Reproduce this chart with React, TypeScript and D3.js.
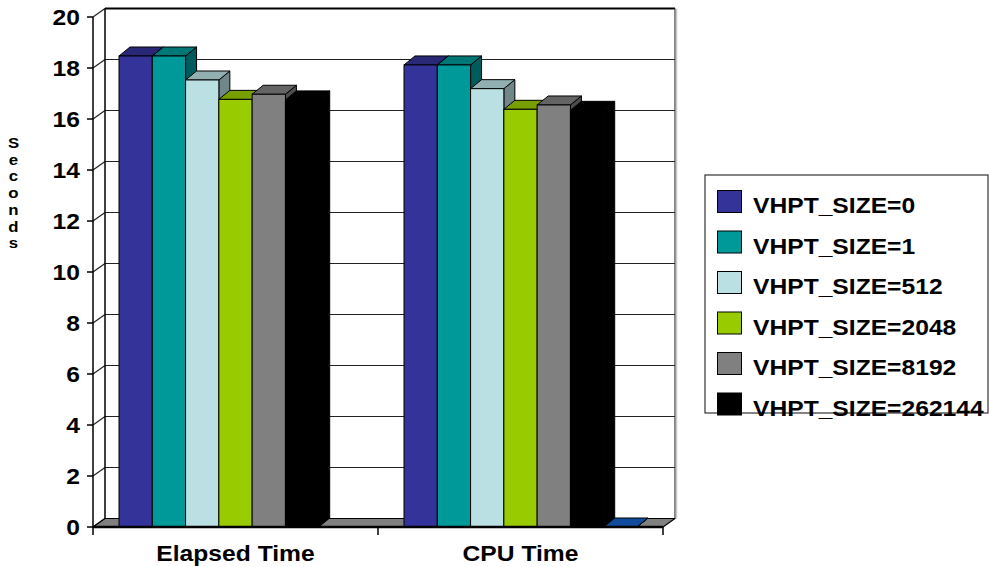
import React from "react";
import * as d3 from "d3";

const categories = ["Elapsed Time", "CPU Time"];
const seriesNames = [
  "VHPT_SIZE=0",
  "VHPT_SIZE=1",
  "VHPT_SIZE=512",
  "VHPT_SIZE=2048",
  "VHPT_SIZE=8192",
  "VHPT_SIZE=262144",
];
const seriesColors = ["#333399", "#009999", "#BBE0E3", "#99CC00", "#808080", "#000000"];
const vhpt0 = [18.47, 18.12];
const vhpt1 = [18.47, 18.12];
const vhpt512 = [17.53, 17.19];
const vhpt2048 = [16.77, 16.38];
const vhpt8192 = [16.97, 16.55];
const vhpt262144 = [16.75, 16.34];
// unnamed 7th series (not in legend), only a flat sliver under CPU Time
const extraSeries: (number | null)[] = [null, 0];
const extraColor = "#1460c8";
const yTicks = [0, 2, 4, 6, 8, 10, 12, 14, 16, 18, 20];
const yTitle = "Seconds";

const allSeries: (number | null)[][] = [vhpt0, vhpt1, vhpt512, vhpt2048, vhpt8192, vhpt262144, extraSeries];
const allColors = [...seriesColors, extraColor];

const W = 989;
const H = 567;
const X0 = 93;
const X1 = 663;
const Y0 = 527;
const Y1 = 17;
const WDX = 12;
const WDY = -8.5;
const BDX = 11;
const BDY = -9;
const FONT = "'Liberation Sans', Arial, sans-serif";
const SX = 1.12;

function shade(c: string, k: number) {
  const r = d3.rgb(c);
  return d3.rgb(r.r * k, r.g * k, r.b * k).formatHex();
}

function T(props: { x: number; y: number; size: number; anchor?: string; dy?: string; children: React.ReactNode }) {
  return (
    <text
      transform={`translate(${props.x},${props.y}) scale(${SX},1)`}
      x={0}
      y={0}
      dy={props.dy}
      textAnchor={props.anchor || "start"}
      fontSize={props.size}
      fontWeight="bold"
      fill="#000"
    >
      {props.children}
    </text>
  );
}

export default function App() {
  const y = d3.scaleLinear().domain([0, 20]).range([Y0, Y1]);
  const xCat = d3.scaleBand().domain(categories).range([X0, X1]).padding(0);
  const pad = 26;
  const slotIdx = allSeries.map((_, i) => String(i));

  const bars: JSX.Element[] = [];
  categories.forEach((cat, ci) => {
    const b0 = xCat(cat)!;
    const xs = d3
      .scaleBand()
      .domain(slotIdx)
      .range([b0 + pad, b0 + xCat.bandwidth() - pad])
      .padding(0);
    allSeries.forEach((ser, si) => {
      const v = ser[ci];
      if (v === null || v === undefined) return;
      const xl = xs(String(si))!;
      const xr = xl + xs.bandwidth();
      const yt = y(v);
      const yb = y(0);
      const col = allColors[si];
      const top = shade(col, 0.78);
      const side = shade(col, 0.6);
      const stroke = "#000";
      bars.push(
        <g key={`${ci}-${si}`}>
          <polygon
            points={`${xr},${yb} ${xr + BDX},${yb + BDY} ${xr + BDX},${yt + BDY} ${xr},${yt}`}
            fill={side}
            stroke={stroke}
            strokeWidth={1}
            strokeLinejoin="round"
          />
          <polygon
            points={`${xl},${yt} ${xr},${yt} ${xr + BDX},${yt + BDY} ${xl + BDX},${yt + BDY}`}
            fill={top}
            stroke={stroke}
            strokeWidth={1}
            strokeLinejoin="round"
          />
          {yb - yt > 0.5 && (
            <rect x={xl} y={yt} width={xr - xl} height={yb - yt} fill={col} stroke={stroke} strokeWidth={1} />
          )}
        </g>
      );
    });
  });

  const catTicks = [X0, ...categories.map((c) => xCat(c)! + xCat.bandwidth())];

  return (
    <svg
      width={W}
      height={H}
      style={{ position: "absolute", left: 0, top: 0, background: "#fff" }}
      fontFamily={FONT}
    >
      <rect x={0} y={0} width={W} height={H} fill="#fff" />
      {/* back wall */}
      <rect x={X0 + WDX} y={Y1 + WDY} width={X1 - X0} height={Y0 - Y1} fill="#fff" />
      {/* left wall */}
      <polygon
        points={`${X0},${Y0} ${X0 + WDX},${Y0 + WDY} ${X0 + WDX},${Y1 + WDY} ${X0},${Y1}`}
        fill="#fff"
      />
      {yTicks.map((t) => (
        <g key={t}>
          <line x1={X0} y1={y(t)} x2={X0 + WDX} y2={y(t) + WDY} stroke="#222" strokeWidth={1.2} />
          <line
            x1={X0 + WDX}
            y1={y(t) + WDY}
            x2={X1 + WDX}
            y2={y(t) + WDY}
            stroke={t === 20 ? "#000" : "#222"}
            strokeWidth={t === 20 ? 2 : 1.2}
          />
          <line x1={X0 - 6} y1={y(t)} x2={X0} y2={y(t)} stroke="#000" strokeWidth={1.5} />
          <T x={80} y={y(t)} dy="0.36em" anchor="end" size={22}>
            {t}
          </T>
        </g>
      ))}
      {/* wall edges */}
      <line x1={X0 + WDX} y1={Y1 + WDY} x2={X0 + WDX} y2={Y0 + WDY} stroke="#000" strokeWidth={1.5} />
      <line x1={X1 + WDX} y1={Y1 + WDY} x2={X1 + WDX} y2={Y0 + WDY} stroke="#333" strokeWidth={1.2} />
      <line x1={X1 + WDX + 1.5} y1={Y1 + WDY} x2={X1 + WDX + 1.5} y2={Y0 + WDY} stroke="#c8c8c8" strokeWidth={1.5} />
      {/* floor */}
      <polygon
        points={`${X0},${Y0} ${X1},${Y0} ${X1 + WDX},${Y0 + WDY} ${X0 + WDX},${Y0 + WDY}`}
        fill="#808080"
        stroke="#000"
        strokeWidth={1.2}
        strokeLinejoin="round"
      />
      {bars}
      {/* axes */}
      <line x1={X0} y1={Y1} x2={X0} y2={Y0} stroke="#000" strokeWidth={1.5} />
      <line x1={X0} y1={Y0} x2={X1} y2={Y0} stroke="#000" strokeWidth={2.5} />
      {catTicks.map((tx, i) => (
        <line key={i} x1={tx} y1={Y0} x2={tx} y2={Y0 + 8} stroke="#000" strokeWidth={1.5} />
      ))}
      {categories.map((c) => (
        <T key={c} x={xCat(c)! + xCat.bandwidth() / 2} y={561} anchor="middle" size={22}>
          {c}
        </T>
      ))}
      {/* y title, stacked letters */}
      {yTitle.split("").map((ch, i) => (
        <T key={i} x={13.5} y={148 + i * 16.7} anchor="middle" size={15}>
          {ch}
        </T>
      ))}
      {/* legend */}
      <rect x={705} y={175} width={283} height={238} fill="#fff" stroke="#333" strokeWidth={1.2} />
      {seriesNames.map((n, i) => (
        <g key={n}>
          <rect x={717.5} y={190.5 + i * 40.5} width={24} height={22} fill={seriesColors[i]} stroke="#000" strokeWidth={1} />
          <T x={753} y={213 + i * 40.5} size={22}>
            {n}
          </T>
        </g>
      ))}
    </svg>
  );
}
